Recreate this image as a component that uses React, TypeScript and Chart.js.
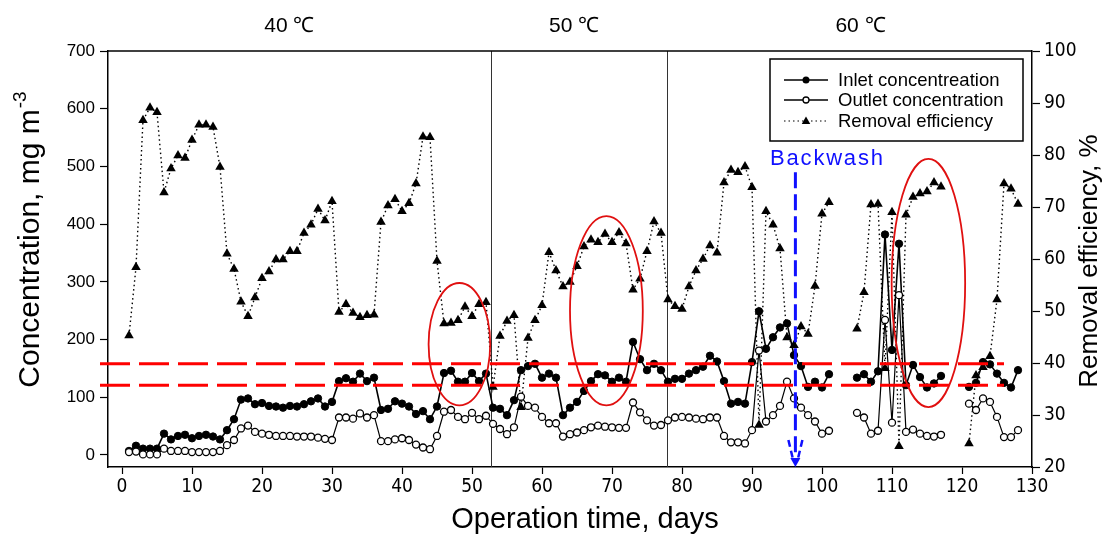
import React, { useEffect, useRef } from "react";
import { Chart, registerables } from "chart.js";

Chart.register(...registerables);

// ---------------- DATA ----------------
const days = [
  1, 2, 3, 4, 5, 6, 7, 8, 9, 10, 11, 12, 13, 14, 15, 16, 17, 18, 19, 20,
  21, 22, 23, 24, 25, 26, 27, 28, 29, 30, 31, 32, 33, 34, 35, 36, 37, 38, 39, 40,
  41, 42, 43, 44, 45, 46, 47, 48, 49, 50, 51, 52, 53, 54, 55, 56, 57, 58, 59, 60,
  61, 62, 63, 64, 65, 66, 67, 68, 69, 70, 71, 72, 73, 74, 75, 76, 77, 78, 79, 80,
  81, 82, 83, 84, 85, 86, 87, 88, 89, 90, 91, 92, 93, 94, 95, 96, 97, 98, 99, 100,
  101, 102, 103, 104, 105, 106, 107, 108, 109, 110, 111, 112, 113, 114, 115, 116, 117, 118, 119, 120,
  121, 122, 123, 124, 125, 126, 127, 128,
];

const inlet = [
  7, 16, 11, 11, 11, 37, 27, 33, 35, 29, 33, 35, 32, 27, 43, 62, 96, 98, 88, 90,
  85, 84, 82, 85, 84, 88, 93, 98, 84, 92, 128, 133, 127, 141, 128, 134, 78, 80, 93, 89,
  84, 71, 76, 62, 84, 142, 146, 127, 127, 142, 128, 141, 82, 80, 69, 95, 147, 154, 158, 134,
  141, 134, 69, 82, 92, 111, 128, 140, 138, 127, 134, 127, 196, 166, 147, 158, 147, 127, 132, 132,
  141, 147, 153, 172, 162, 128, 89, 92, 89, 161, 249, 184, 204, 221, 228, 173, 154, 118, 127, 117,
  140, null, null, null, 134, 140, 127, 145, 382, 182, 366, 121, 156, 135, 117, 124, 137, null, null, null,
  118, 125, 161, 157, 141, 125, 117, 147,
];

const outlet = [
  5, 6, 1, 1, 1, 11, 7, 7, 7, 5, 5, 5, 5, 7, 17, 26, 46, 51, 40, 37,
  35, 33, 33, 33, 32, 32, 32, 30, 28, 26, 65, 65, 63, 72, 65, 69, 24, 24, 27, 29,
  26, 18, 13, 10, 33, 75, 78, 66, 62, 73, 62, 68, 54, 45, 36, 48, 101, 85, 82, 66,
  55, 55, 32, 36, 39, 43, 48, 51, 49, 48, 47, 47, 91, 74, 60, 51, 52, 60, 65, 66,
  65, 63, 62, 65, 65, 33, 22, 22, 20, 43, 181, 58, 69, 85, 127, 98, 82, 69, 58, 37,
  42, null, null, null, 73, 65, 37, 42, 234, 56, 277, 40, 44, 37, 33, 32, 35, null, null, null,
  89, 78, 98, 92, 66, 31, 31, 43,
];

const efficiency = [
  45.3, 58.4, 86.7, 89.1, 88.2, 72.8, 77.4, 79.9, 79.4, 82.9, 85.8, 85.8, 85.4, 77.7, 61.0, 58.1, 51.8, 49.0, 52.6, 56.3,
  57.6, 59.9, 59.9, 61.5, 61.5, 65.0, 66.6, 69.6, 67.4, 71.1, 49.8, 51.3, 49.6, 48.8, 49.2, 49.3, 67.1, 70.3, 71.5, 69.2,
  70.7, 74.5, 83.5, 83.4, 59.6, 47.6, 47.7, 48.2, 50.8, 49.0, 51.3, 51.7, 35.4, 45.2, 48.1, 49.2, 31.5, 44.8, 48.2, 51.1,
  61.3, 57.8, 54.7, 55.6, 58.6, 62.4, 63.7, 63.2, 64.8, 63.2, 65.1, 63.0, 54.1, 56.2, 61.5, 67.2, 65.0, 52.2, 50.9, 50.4,
  54.7, 57.8, 60.0, 62.6, 61.2, 74.7, 77.1, 76.7, 77.8, 73.8, 28.1, 69.2, 66.6, 62.0, 44.9, 43.4, 47.0, 45.6, 54.8, 68.7,
  70.9, null, null, null, 46.6, 53.6, 70.5, 70.6, 39.0, 69.0, 24.0, 68.5, 71.9, 72.6, 73.0, 74.7, 73.9, null, null, null,
  24.5, 37.6, 39.2, 41.3, 52.2, 74.5, 73.5, 70.6,
];

const xTicks = [0, 10, 20, 30, 40, 50, 60, 70, 80, 90, 100, 110, 120, 130];
const leftTicks = [0, 100, 200, 300, 400, 500, 600, 700];
const rightTicks = [20, 30, 40, 50, 60, 70, 80, 90, 100];

const periodLabels = ["40 \u2103", "50 \u2103", "60 \u2103"];
const periodLabelDays = [23.9, 64.6, 105.5];
const periodBoundaries = [52.7, 77.8];

const thresholdLevels = [158, 121];
const thresholdEndDay = 126;

// ellipses: [centerDay, centerValue, radiusDays, radiusValue]
const ellipseCenters = [48.2, 69.2, 115.2];
const ellipseLevels = [192, 250, 298];
const ellipseRadiusDays = [4.4, 5.2, 5.25];
const ellipseRadiusValues = [106, 164, 215];

const backwashDay = 96.2;
const backwashTopValue = 490;

const legendLabels = ["Inlet concentreation", "Outlet concentration", "Removal efficiency"];

const SANS = "'Liberation Sans', Arial, sans-serif";
const NARROW = "'Liberation Sans Narrow', 'DejaVu Sans Condensed', 'Liberation Sans', sans-serif";

function drawTriangle(ctx: CanvasRenderingContext2D, x: number, y: number, r: number) {
  ctx.beginPath();
  ctx.moveTo(x, y - r);
  ctx.lineTo(x + r * 0.95, y + r * 0.65);
  ctx.lineTo(x - r * 0.95, y + r * 0.65);
  ctx.closePath();
  ctx.fill();
}

const decorPlugin = {
  id: "decor",
  beforeDatasetsDraw(chart: any) {
    const { ctx, chartArea, scales } = chart;
    const xs = scales.x;
    ctx.save();
    ctx.strokeStyle = "#333";
    ctx.lineWidth = 1;
    periodBoundaries.forEach((d) => {
      const px = Math.round(xs.getPixelForValue(d)) + 0.5;
      ctx.beginPath();
      ctx.moveTo(px, chartArea.top);
      ctx.lineTo(px, chartArea.bottom);
      ctx.stroke();
    });
    ctx.restore();
  },
  afterDatasetsDraw(chart: any) {
    const { ctx, chartArea, scales } = chart;
    const xs = scales.x;
    const ys = scales.y;
    ctx.save();

    // red threshold lines
    ctx.strokeStyle = "#ff0000";
    ctx.lineWidth = 3;
    ctx.setLineDash([30, 9]);
    thresholdLevels.forEach((v) => {
      const py = ys.getPixelForValue(v);
      ctx.beginPath();
      ctx.moveTo(chartArea.left - 8, py);
      ctx.lineTo(xs.getPixelForValue(thresholdEndDay), py);
      ctx.stroke();
    });
    ctx.setLineDash([]);

    // ellipses
    ctx.strokeStyle = "#e01010";
    ctx.lineWidth = 1.8;
    ellipseCenters.forEach((cd, i) => {
      const cx = xs.getPixelForValue(cd);
      const cy = ys.getPixelForValue(ellipseLevels[i]);
      const rx = Math.abs(xs.getPixelForValue(cd + ellipseRadiusDays[i]) - cx);
      const ry = Math.abs(ys.getPixelForValue(ellipseLevels[i] + ellipseRadiusValues[i]) - cy);
      ctx.beginPath();
      ctx.ellipse(cx, cy, rx, ry, 0, 0, Math.PI * 2);
      ctx.stroke();
    });

    // backwash arrow
    const bx = xs.getPixelForValue(backwashDay);
    const btop = ys.getPixelForValue(backwashTopValue);
    const bbot = chartArea.bottom;
    ctx.strokeStyle = "#1010ff";
    ctx.fillStyle = "#1010ff";
    ctx.lineWidth = 3;
    ctx.setLineDash([16, 6]);
    ctx.beginPath();
    ctx.moveTo(bx, btop);
    ctx.lineTo(bx, bbot - 4);
    ctx.stroke();
    ctx.setLineDash([7, 4]);
    ctx.lineWidth = 2.5;
    ctx.beginPath();
    ctx.moveTo(bx - 7, bbot - 27);
    ctx.lineTo(bx - 2, bbot - 6);
    ctx.moveTo(bx + 7, bbot - 27);
    ctx.lineTo(bx + 2, bbot - 6);
    ctx.stroke();
    ctx.setLineDash([]);
    ctx.beginPath();
    ctx.moveTo(bx, bbot);
    ctx.lineTo(bx - 5, bbot - 9);
    ctx.lineTo(bx + 5, bbot - 9);
    ctx.closePath();
    ctx.fill();
    ctx.font = `22px ${SANS}`;
    (ctx as any).letterSpacing = "1.8px";
    ctx.textAlign = "center";
    ctx.textBaseline = "alphabetic";
    ctx.fillText("Backwash", bx + 32, btop - 7);
    (ctx as any).letterSpacing = "0px";

    ctx.restore();
  },
  afterDraw(chart: any) {
    const { ctx, chartArea, scales } = chart;
    const xs = scales.x;
    ctx.save();

    // frame top
    ctx.strokeStyle = "#000";
    ctx.lineWidth = 1.5;
    ctx.beginPath();
    ctx.moveTo(chartArea.left, chartArea.top);
    ctx.lineTo(chartArea.right, chartArea.top);
    ctx.stroke();

    // period labels
    ctx.fillStyle = "#000";
    ctx.font = `21px ${SANS}`;
    ctx.textAlign = "center";
    ctx.textBaseline = "middle";
    periodLabels.forEach((t, i) => {
      ctx.fillText(t, xs.getPixelForValue(periodLabelDays[i]), 26);
    });

    // x title
    ctx.font = `29px ${SANS}`;
    ctx.textAlign = "center";
    ctx.textBaseline = "alphabetic";
    ctx.fillText("Operation time, days", 585, 528);

    // left title with superscript
    ctx.save();
    ctx.translate(39, 240);
    ctx.rotate(-Math.PI / 2);
    ctx.font = `30px ${SANS}`;
    const main = "Concentration, mg m";
    const wMain = ctx.measureText(main).width;
    ctx.font = `19px ${SANS}`;
    const sup = "-3";
    const wSup = ctx.measureText(sup).width;
    const total = wMain + wSup;
    ctx.textAlign = "left";
    ctx.font = `30px ${SANS}`;
    ctx.fillText(main, -total / 2, 0);
    ctx.font = `19px ${SANS}`;
    ctx.fillText(sup, -total / 2 + wMain + 1, -13);
    ctx.restore();

    // right title
    ctx.save();
    ctx.translate(1097, 261);
    ctx.rotate(-Math.PI / 2);
    ctx.font = `26px ${SANS}`;
    ctx.textAlign = "center";
    ctx.fillText("Removal efficiency, %", 0, 0);
    ctx.restore();

    // legend
    const lx = 770, ly = 59, lw = 253, lh = 82;
    ctx.fillStyle = "#fff";
    ctx.fillRect(lx, ly, lw, lh);
    ctx.strokeStyle = "#000";
    ctx.lineWidth = 1.5;
    ctx.strokeRect(lx, ly, lw, lh);
    const rows = [80, 100, 121];
    rows.forEach((ry, i) => {
      ctx.strokeStyle = "#000";
      ctx.fillStyle = "#000";
      if (i === 2) {
        ctx.setLineDash([1.5, 3]);
        ctx.lineWidth = 1.2;
      } else {
        ctx.setLineDash([]);
        ctx.lineWidth = 1.3;
      }
      ctx.beginPath();
      ctx.moveTo(784, ry);
      ctx.lineTo(828, ry);
      ctx.stroke();
      ctx.setLineDash([]);
      if (i === 0) {
        ctx.beginPath();
        ctx.arc(806, ry, 3.5, 0, Math.PI * 2);
        ctx.fill();
      } else if (i === 1) {
        ctx.beginPath();
        ctx.arc(806, ry, 3, 0, Math.PI * 2);
        ctx.fillStyle = "#fff";
        ctx.fill();
        ctx.lineWidth = 1.3;
        ctx.stroke();
      } else {
        ctx.fillStyle = "#000";
        drawTriangle(ctx, 806, ry, 4.5);
      }
      ctx.fillStyle = "#000";
      ctx.font = `18.5px ${SANS}`;
      ctx.textAlign = "left";
      ctx.textBaseline = "middle";
      ctx.fillText(legendLabels[i], 838, ry + 1);
    });

    ctx.restore();
  },
};

export default function App() {
  const canvasRef = useRef<HTMLCanvasElement | null>(null);

  useEffect(() => {
    if (!canvasRef.current) return;
    const mk = (arr: (number | null)[]) => days.map((d, i) => ({ x: d, y: arr[i] }));

    const chart = new Chart(canvasRef.current, {
      type: "line",
      data: {
        datasets: [
          {
            label: legendLabels[1],
            data: mk(outlet) as any,
            yAxisID: "y",
            borderColor: "#000",
            borderWidth: 1.2,
            pointRadius: 3.5,
            pointBackgroundColor: "#fff",
            pointBorderColor: "#000",
            pointBorderWidth: 1.3,
            spanGaps: false,
            order: 0,
          },
          {
            label: legendLabels[0],
            data: mk(inlet) as any,
            yAxisID: "y",
            borderColor: "#000",
            borderWidth: 1.6,
            pointRadius: 3.7,
            pointBackgroundColor: "#000",
            pointBorderColor: "#000",
            pointBorderWidth: 1,
            spanGaps: false,
            order: 1,
          },
          {
            label: legendLabels[2],
            data: mk(efficiency) as any,
            yAxisID: "y2",
            borderColor: "#000",
            borderWidth: 1.4,
            borderDash: [1.5, 3],
            pointStyle: "triangle",
            pointRadius: 5.5,
            pointBackgroundColor: "#000",
            pointBorderColor: "#000",
            pointBorderWidth: 0,
            spanGaps: false,
            order: 2,
          },
        ],
      },
      options: {
        responsive: false,
        animation: false,
        devicePixelRatio: 1,
        layout: { padding: { top: 51, left: 0, right: 0, bottom: 0 } },
        plugins: {
          legend: { display: false },
          tooltip: { enabled: false },
          title: { display: false },
        },
        scales: {
          x: {
            type: "linear",
            min: -2,
            max: 130,
            afterBuildTicks: (s: any) => {
              s.ticks = xTicks.map((v) => ({ value: v }));
            },
            afterFit: (s: any) => {
              s.height = 67;
            },
            border: { display: true, color: "#000", width: 1.5 },
            grid: { display: true, drawOnChartArea: false, drawTicks: true, tickLength: 7, tickColor: "#000", tickWidth: 1.2 },
            ticks: {
              color: "#000",
              font: { family: NARROW, size: 19 },
              padding: 2,
              maxRotation: 0,
              autoSkip: false,
              callback: (v: any) => String(v),
            },
          },
          y: {
            type: "linear",
            position: "left",
            min: -20.8,
            max: 700,
            afterBuildTicks: (s: any) => {
              s.ticks = leftTicks.map((v) => ({ value: v }));
            },
            afterFit: (s: any) => {
              s.width = 108;
            },
            border: { display: true, color: "#000", width: 1.5 },
            grid: { display: true, drawOnChartArea: false, drawTicks: true, tickLength: 8, tickColor: "#000", tickWidth: 1.2 },
            ticks: {
              color: "#000",
              font: { family: SANS, size: 17 },
              padding: 5,
              autoSkip: false,
              callback: (v: any) => String(v),
            },
          },
          y2: {
            type: "linear",
            position: "right",
            min: 20,
            max: 100,
            afterBuildTicks: (s: any) => {
              s.ticks = rightTicks.map((v) => ({ value: v }));
            },
            afterFit: (s: any) => {
              s.width = 74;
            },
            border: { display: true, color: "#000", width: 1.5 },
            grid: { display: true, drawOnChartArea: false, drawTicks: true, tickLength: 8, tickColor: "#000", tickWidth: 1.2 },
            ticks: {
              color: "#000",
              font: { family: NARROW, size: 19 },
              padding: 4,
              autoSkip: false,
              callback: (v: any) => String(v),
            },
          },
        },
      } as any,
      plugins: [decorPlugin],
    });

    return () => chart.destroy();
  }, []);

  return (
    <div style={{ position: "fixed", left: 0, top: 0, width: 1106, height: 534, background: "#fff" }}>
      <canvas ref={canvasRef} width={1106} height={534} style={{ display: "block", width: 1106, height: 534 }} />
    </div>
  );
}
